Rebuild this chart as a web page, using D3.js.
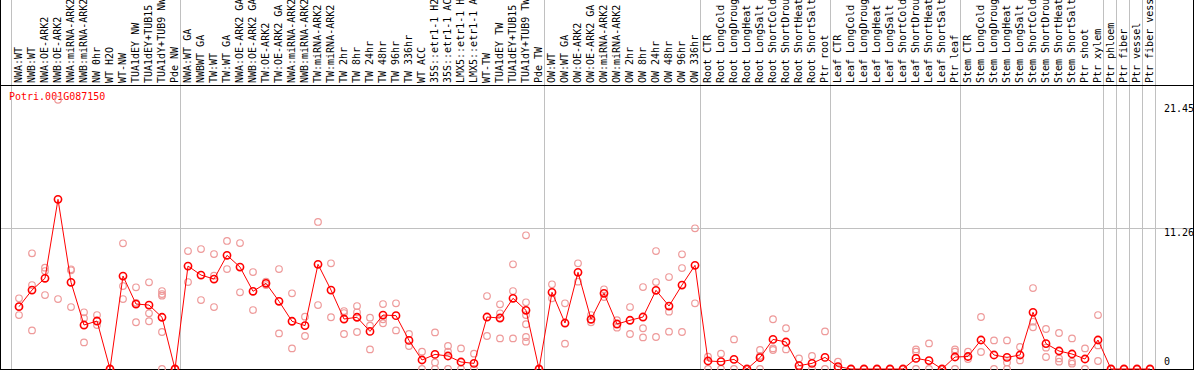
<!DOCTYPE html>
<html lang="en">
<head>
    <meta charset="UTF-8">
    <title>Potri.001G087150</title>
    <script src="https://d3js.org/d3.v7.min.js"></script>
    <style>
        body { margin: 0; background: white; }
        text { font-family: "DejaVu Sans Mono", monospace; font-size: 10px; }
    </style>
</head>
<body>
    <div class="chart"></div>
    <script>
        // Sample names, left to right
        const samples = [
            "NWA:WT", "NWB:WT", "NWA:OE-ARK2", "NWB:OE-ARK2", "NWA:miRNA-ARK2", "NWB:miRNA-ARK2",
            "NW 0hr", "WT H2O", "WT-NW", "TUA1dEY NW", "TUA1dEY+TUB15 NW", "TUA1dY+TUB9 NW", "Pde NW",
            "NWA:WT GA", "NWBWT GA", "TW:WT", "TW:WT GA", "NWA:OE-ARK2 GA", "NWB:OE-ARK2 GA",
            "TW:OE-ARK2", "TW:OE-ARK2 GA", "NWA:miRNA-ARK2", "NWB:miRNA-ARK2", "TW:miRNA-ARK2",
            "TW:miRNA-ARK2", "TW 2hr", "TW 8hr", "TW 24hr", "TW 48hr", "TW 96hr", "TW 336hr",
            "WT ACC", "35S::etr1-1 H2O", "35S::etr1-1 ACC", "LMX5::etr1-1 H2O", "LMX5::etr1-1 ACC",
            "WT-TW", "TUA1dEY TW", "TUA1dEY+TUB15 TW", "TUA1dY+TUB9 TW", "Pde TW",
            "OW:WT", "OW:WT GA", "OW:OE-ARK2", "OW:OE-ARK2 GA", "OW:miRNA-ARK2", "OW:miRNA-ARK2",
            "OW 2hr", "OW 8hr", "OW 24hr", "OW 48hr", "OW 96hr", "OW 336hr",
            "Root CTR", "Root LongCold", "Root LongDrought", "Root LongHeat", "Root LongSalt",
            "Root ShortCold", "Root ShortDrought", "Root ShortHeat", "Root ShortSalt", "Ptr root",
            "Leaf CTR", "Leaf LongCold", "Leaf LongDrought", "Leaf LongHeat", "Leaf LongSalt",
            "Leaf ShortCold", "Leaf ShortDrought", "Leaf ShortHeat", "Leaf ShortSalt", "Ptr leaf",
            "Stem CTR", "Stem LongCold", "Stem LongDrought", "Stem LongHeat", "Stem LongSalt",
            "Stem ShortCold", "Stem ShortDrought", "Stem ShortHeat", "Stem ShortSalt", "Ptr shoot",
            "Ptr xylem", "Ptr phloem", "Ptr fiber", "Ptr vessel", "Ptr fiber vessel"
        ];

        // index where each experiment group starts (last one = end)
        const groupStarts = [0, 13, 41, 53, 63, 73, 84, 85, 86, 87, 88];

        // mean expression per sample
        const means = [
            4.99, 6.32, 7.26, 13.58, 6.94, 3.52, 3.84, 0, 7.44, 5.2, 5.12, 4.14, 0,
            8.24, 7.52, 7.2, 9.1, 8.16, 6.22, 6.86, 5.42, 3.82, 3.47, 8.38, 6.32, 4.0, 4.14,
            3.01, 4.32, 4.27, 2.29, 0.72, 1.17, 1.04, 0.56, 0.45, 4.16, 4.08, 5.66, 4.7, 0,
            6.14, 3.68, 7.74, 3.98, 6.06, 3.6, 3.9, 4.16, 6.3, 5.04, 6.72, 8.3,
            0.64, 0.59, 0.77, 0, 0.91, 2.37, 2.16, 0.27, 0.45, 0.93,
            0.19, 0, 0, 0, 0, 0, 0.85, 0.67, 0, 0.96,
            1.0, 2.32, 1.12, 0.93, 1.12, 4.54, 2.03, 1.44, 1.2, 0.8, 2.32,
            0, 0, 0, 0
        ];

        // individual replicates per sample
        const replicates = [
            [5.66, 4.32, 5.0], [9.26, 6.72, 3.09], [8.11, 7.84, 5.92], [21.55, 5.6],
            [7.98, 4.96, 7.9], [4.54, 4.06, 2.13], [4.32, 3.52], [0, 0],
            [10.06, 6.64, 5.6], [6.54, 3.74, 5.3], [6.94, 4.46, 3.82], [6.24, 6.0, 5.87, 2.96, 0], [0, 0],
            [9.44, 6.96], [9.6, 5.52], [9.2, 7.47, 4.96], [10.25, 8.0], [10.08, 6.14],
            [7.76, 4.72], [6.99, 6.72], [8.0, 2.85], [6.06, 1.65], [4.19, 2.64],
            [11.77, 5.12], [8.46, 4.14], [4.64, 4.48, 2.8], [5.04, 4.54, 2.96], [4.11, 3.47, 1.57],
            [5.2, 3.98, 3.66], [5.26, 3.09], [2.8, 1.84], [1.39, 0], [2.93, 0.53, 0],
            [1.84, 1.39, 0], [1.65, 0], [1.23, 0], [5.84, 2.64], [5.18, 4.46, 2.45],
            [8.38, 6.24, 2.45], [10.7, 5.34, 4.32, 3.58, 2.56, 2.19], [0, 0],
            [6.78, 5.66], [5.26, 2.03], [8.46, 6.99], [4.32, 3.74], [6.38, 5.76], [3.9, 3.31],
            [4.96, 2.8], [6.56, 3.26, 2.53], [9.44, 6.96, 2.56], [7.36, 4.59, 2.99],
            [9.18, 8.08, 2.96], [11.26, 5.26],
            [0.99, 0], [1.23, 0], [2.37, 0], [0, 0], [1.52, 1.04, 0], [3.98, 1.65, 1.52],
            [3.26, 1.57], [0.85, 0], [1.04, 0], [3.01, 0],
            [0.59, 0], [0, 0], [0, 0], [0, 0], [0, 0], [0, 0], [1.57, 1.39, 0], [2.05, 0],
            [0, 0], [1.57, 1.39, 0],
            [1.39, 0.8], [4.16, 1.36], [2.29, 0], [2.29, 0.53, 0], [1.76, 0.69],
            [6.48, 3.79, 3.34], [3.2, 1.71, 0.96], [2.88, 0.85, 0.59], [2.45, 0.59, 0.43],
            [1.65, 0], [4.32, 1.89, 0.64],
            [0, 0], [0, 0], [0, 0], [0, 0]
        ];

        const yTicks = [0, 11.26, 21.45];
        const geneId = "Potri.001G087150";

        const width = 1194, height = 370;
        const labelBottom = 85;

        const svg = d3.select('.chart').append('svg')
            .attr('width', width)
            .attr('height', height);

        const x = d3.scaleLinear().domain([0, samples.length]).range([11, 11 + 13 * samples.length]);
        const cx = i => x(i) + 8;
        const y = d3.scaleLinear().domain([0, 21.45]).range([369, 101]);

        // gridlines: group separators (full height) and middle value line
        svg.selectAll('line.sep').data(groupStarts).enter().append('line')
            .attr('x1', d => Math.round(x(d)) + 0.5).attr('x2', d => Math.round(x(d)) + 0.5)
            .attr('y1', 0).attr('y2', height)
            .attr('stroke', '#c0c0c0');

        svg.append('line')
            .attr('x1', 1).attr('x2', 1193)
            .attr('y1', Math.round(y(yTicks[1])) + 0.5).attr('y2', Math.round(y(yTicks[1])) + 0.5)
            .attr('stroke', '#c0c0c0');

        // sample labels, rotated (long ones run off the top like in the original)
        svg.selectAll('text.lab').data(samples).enter().append('text')
            .attr('transform', (d, i) => `translate(${cx(i) + 3},${labelBottom - 2}) rotate(-90)`)
            .attr('fill', 'black')
            .text(d => d);

        // frame
        svg.append('line').attr('x1', 0).attr('x2', width).attr('y1', labelBottom + 0.5).attr('y2', labelBottom + 0.5).attr('stroke', 'black');
        svg.append('line').attr('x1', 0).attr('x2', width).attr('y1', 369.5).attr('y2', 369.5).attr('stroke', 'black');
        svg.append('line').attr('x1', 0.5).attr('x2', 0.5).attr('y1', 0).attr('y2', height).attr('stroke', 'black');
        svg.append('line').attr('x1', 1193.5).attr('x2', 1193.5).attr('y1', 0).attr('y2', height).attr('stroke', 'black');

        // y labels on the right
        const tickBase = { 0: 365, 11.26: 236, 21.45: 112 };
        svg.selectAll('text.tick').data(yTicks).enter().append('text')
            .attr('x', 1164)
            .attr('y', d => tickBase[d])
            .text(d => d);

        svg.append('text')
            .attr('x', 9).attr('y', 100)
            .attr('fill', 'red')
            .text(geneId);

        const repG = svg.append('g');
        replicates.forEach((reps, i) => {
            repG.selectAll(null).data(reps).enter().append('circle')
                .attr('cx', cx(i)).attr('cy', d => y(d)).attr('r', 3.3)
                .attr('fill', 'none').attr('stroke', '#ee9a9a').attr('stroke-width', 1.2);
        });

        const line = d3.line().x((d, i) => cx(i)).y(d => y(d));
        svg.append('path').datum(means)
            .attr('d', line)
            .attr('fill', 'none')
            .attr('stroke', 'red')
            .attr('stroke-width', 1);

        svg.append('g').selectAll('circle').data(means).enter().append('circle')
            .attr('cx', (d, i) => cx(i)).attr('cy', d => y(d)).attr('r', 3.6)
            .attr('fill', 'none').attr('stroke', 'red').attr('stroke-width', 1.6);
    </script>
</body>
</html>
